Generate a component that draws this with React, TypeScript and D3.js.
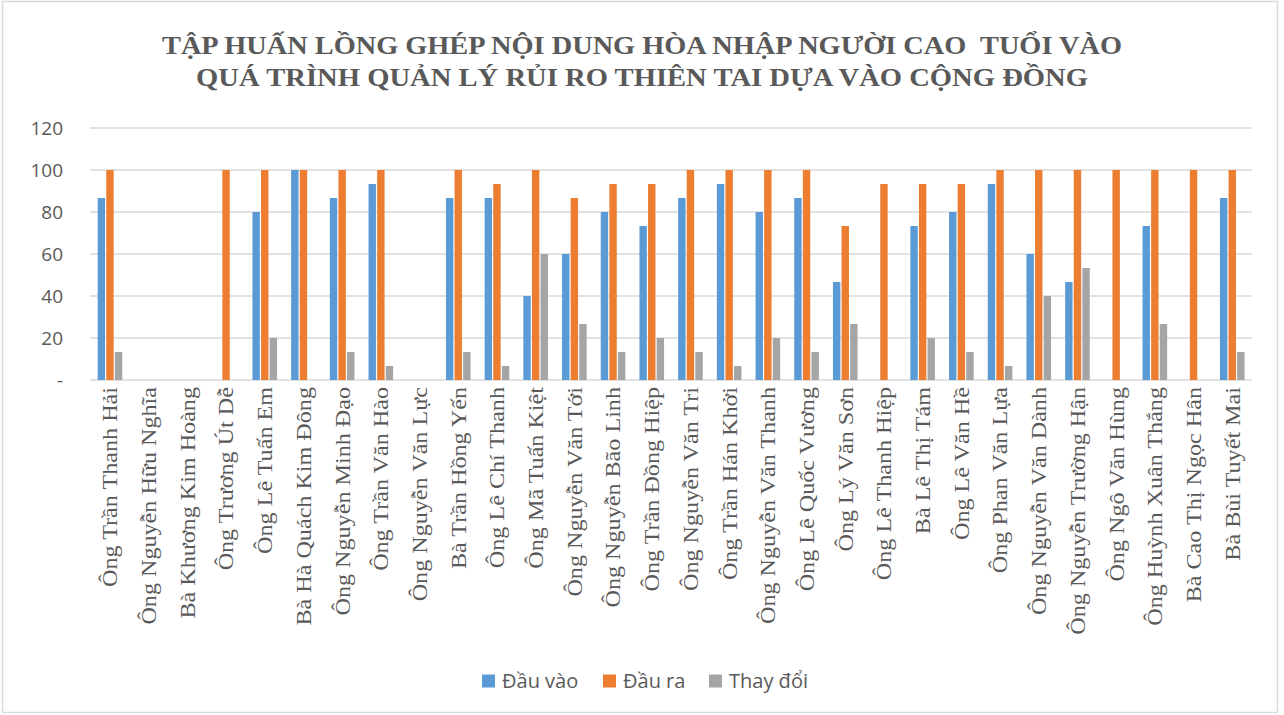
import React from "react";
import * as d3 from "d3";

const names = [
  "Ông Trần Thanh Hải",
  "Ông Nguyễn Hữu Nghĩa",
  "Bà Khương Kim Hoàng",
  "Ông Trương Út Dễ",
  "Ông Lê Tuấn Em",
  "Bà Hà Quách Kim Đông",
  "Ông Nguyễn Minh Đạo",
  "Ông Trần Văn Hào",
  "Ông Nguyễn Văn Lực",
  "Bà Trần Hồng Yến",
  "Ông Lê Chí Thanh",
  "Ông Mã Tuấn Kiệt",
  "Ông Nguyễn Văn Tới",
  "Ông Nguyễn Bão Linh",
  "Ông Trần Đồng Hiệp",
  "Ông Nguyễn Văn Tri",
  "Ông Trần Hán Khởi",
  "Ông Nguyễn Văn Thanh",
  "Ông Lê Quốc Vương",
  "Ông Lý Văn Sơn",
  "Ông Lê Thanh Hiệp",
  "Bà Lê Thị Tám",
  "Ông Lê Văn Hề",
  "Ông Phan Văn Lựa",
  "Ông Nguyễn Văn Dành",
  "Ông Nguyễn Trường Hận",
  "Ông Ngô Văn Hùng",
  "Ông Huỳnh Xuân Thắng",
  "Bà Cao Thị Ngọc Hân",
  "Bà Bùi Tuyết Mai",
];

const dauVao = [
  86.67, 0, 0, 0, 80, 100, 86.67, 93.33, 0, 86.67, 86.67, 40, 60, 80, 73.33,
  86.67, 93.33, 80, 86.67, 46.67, 0, 73.33, 80, 93.33, 60, 46.67, 0, 73.33, 0,
  86.67,
];
const dauRa = [
  100, 0, 0, 100, 100, 100, 100, 100, 0, 100, 93.33, 100, 86.67, 93.33, 93.33,
  100, 100, 100, 100, 73.33, 93.33, 93.33, 93.33, 100, 100, 100, 100, 100, 100,
  100,
];
const thayDoi = [
  13.33, 0, 0, 0, 20, 0, 13.33, 6.67, 0, 13.33, 6.67, 60, 26.67, 13.33, 20,
  13.33, 6.67, 20, 13.33, 26.67, 0, 20, 13.33, 6.67, 40, 53.33, 0, 26.67, 0,
  13.33,
];

const seriesNames = ["Đầu vào", "Đầu ra", "Thay đổi"];
const colors = ["#5b9bd5", "#ed7d31", "#a5a5a5"];
const yTicks = [0, 20, 40, 60, 80, 100, 120];
const titleLines = [
  "TẬP HUẤN LỒNG GHÉP NỘI DUNG HÒA NHẬP NGƯỜI CAO  TUỔI VÀO",
  "QUÁ TRÌNH QUẢN LÝ RỦI RO THIÊN TAI DỰA VÀO CỘNG ĐỒNG",
];

export default function App() {
  const width = 1284;
  const height = 715;
  const left = 90.6;
  const right = 1251.6;
  const top = 128;
  const bottom = 380;

  const series = [dauVao, dauRa, thayDoi];

  const x = d3.scaleBand().domain(names).range([left, right]).paddingInner(0.333).paddingOuter(0.1665);
  const inner = d3.scaleBand().domain(seriesNames).range([0, x.bandwidth()]);
  const y = d3.scaleLinear().domain([0, 120]).range([bottom, top]);

  const sans = "'Open Sans', 'Liberation Sans', sans-serif";
  const serif = "'Liberation Serif', 'Times New Roman', serif";

  const legendX = [482, 603, 709];
  const titleLen = [960, 892];

  return (
    <svg
      width={width}
      height={height}
      style={{ position: "absolute", left: 0, top: 0, display: "block", background: "#fff" }}
    >
      <rect x={2.5} y={1.5} width={1275} height={711} fill="#fff" stroke="#d9d9d9" strokeWidth={1.5} />

      {titleLines.map((t, i) => (
        <text
          key={i}
          x={642}
          y={54 + i * 32}
          textAnchor="middle"
          fontFamily={serif}
          fontWeight="bold"
          fontSize={25}
          fill="#595959"
          textLength={titleLen[i]}
          lengthAdjust="spacingAndGlyphs"
          style={{ whiteSpace: "pre" }}
        >
          {t}
        </text>
      ))}

      {yTicks.map((t) => (
        <g key={t}>
          <line x1={90} x2={1252} y1={y(t)} y2={y(t)} stroke="#d9d9d9" strokeWidth={1.3} />
          <text
            x={63}
            y={y(t)}
            dy="0.35em"
            textAnchor="end"
            fontFamily={sans}
            fontSize={19}
            fill="#595959"
          >
            {t === 0 ? "-" : t}
          </text>
        </g>
      ))}

      {names.map((n, i) => (
        <g key={n} transform={`translate(${x(n)},0)`}>
          {series.map((s, j) => {
            const v = s[i];
            if (!v) return null;
            const bx = inner(seriesNames[j]) as number;
            return (
              <rect
                key={j}
                x={bx + 0.6}
                y={y(v)}
                width={inner.bandwidth() - 1.2}
                height={y(0) - y(v)}
                fill={colors[j]}
              />
            );
          })}
        </g>
      ))}

      {names.map((n) => (
        <text
          key={n}
          transform={`translate(${(x(n) as number) + x.bandwidth() / 2},387) rotate(-90) scale(1.15,1)`}
          dy="0.35em"
          textAnchor="end"
          fontFamily={serif}
          fontSize={21}
          fill="#595959"
        >
          {n}
        </text>
      ))}

      {seriesNames.map((s, i) => (
        <g key={s}>
          <rect x={legendX[i]} y={674.5} width={13} height={13} fill={colors[i]} />
          <text x={legendX[i] + 20} y={681} dy="0.35em" fontFamily={sans} fontSize={20} fill="#595959">
            {s}
          </text>
        </g>
      ))}
    </svg>
  );
}
